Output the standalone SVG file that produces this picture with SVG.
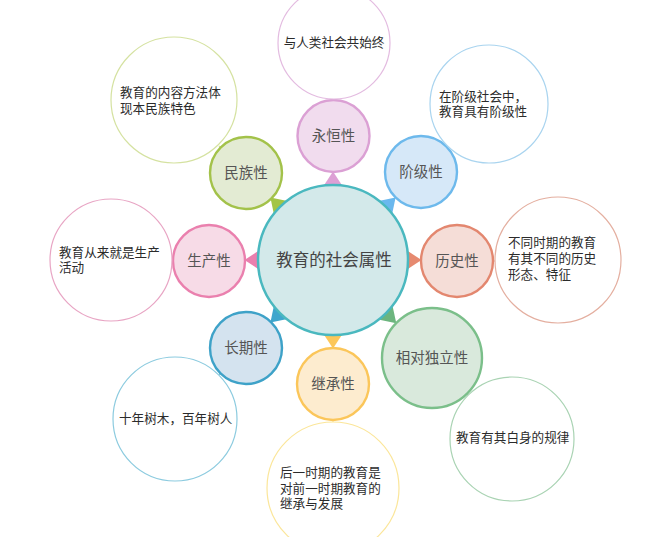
<svg xmlns="http://www.w3.org/2000/svg" width="659" height="537" viewBox="0 0 659 537">
<style>
text{font-family:"Liberation Sans","Noto Sans CJK SC",sans-serif;dominant-baseline:central}
.t{font-size:12.6px;fill:#2b2b2b}
.p{font-size:14.5px;fill:#555;text-anchor:middle}
.c{font-size:16.5px;fill:#444;text-anchor:middle}
.o{fill:#fff;stroke-width:1.2}
.n{stroke-width:2.4}
.lk{stroke-width:1.2}
</style>
<defs>
<polygon id="tri" points="74,-9.5 88.5,0 74,9.5"/>
<polygon id="tri2" points="74,-10 89.5,0 74,10"/>
</defs>
<rect width="659" height="537" fill="#fff"/>
<g id="connectors">
<g transform="translate(333,260)">
<use href="#tri" transform="rotate(-90)" fill="#dda0d5"/>
<use href="#tri" transform="rotate(-45)" fill="#6ab8ee"/>
<use href="#tri" transform="rotate(0)" fill="#e68a70"/>
<use href="#tri2" transform="rotate(45)" fill="#6cb57e"/>
<use href="#tri" transform="rotate(90)" fill="#fcc75a"/>
<use href="#tri" transform="rotate(135)" fill="#3fa6cd"/>
<use href="#tri" transform="rotate(180)" fill="#ea7fae"/>
<use href="#tri" transform="rotate(225)" fill="#a3c545"/>
</g>
<line class="lk" x1="333.5" y1="100" x2="334" y2="98" stroke="#e3bbe0"/>
<line class="lk" x1="446" y1="147" x2="448" y2="145" stroke="#a9d4ef"/>
<line class="lk" x1="493" y1="261" x2="495" y2="261" stroke="#e4afa0"/>
<line class="lk" x1="467" y1="394" x2="469" y2="396" stroke="#a9d3b3"/>
<line class="lk" x1="333" y1="420" x2="333" y2="422" stroke="#fbe69a"/>
<line class="lk" x1="221" y1="373" x2="219" y2="375" stroke="#8ccbdf"/>
<line class="lk" x1="173" y1="261" x2="172" y2="261" stroke="#e8a5c4"/>
<line class="lk" x1="221" y1="148" x2="219" y2="146" stroke="#d5e2a1"/>
</g>
<g id="center">
<circle cx="333" cy="260" r="75" fill="#d3e9ea" stroke="#4ab8bf" stroke-width="2.5"/>
<text class="c" x="334" y="260">教育的社会属性</text>
</g>
<g id="yonghengxing">
<circle class="n" cx="333.5" cy="136" r="36" fill="#f1dcee" stroke="#dba0d4"/>
<text class="p" x="333.5" y="136">永恒性</text>
</g>
<g id="jiejixing">
<circle class="n" cx="421" cy="172" r="36" fill="#d6e8f8" stroke="#6db9ec"/>
<text class="p" x="421" y="172">阶级性</text>
</g>
<g id="lishixing">
<circle class="n" cx="457" cy="261" r="36" fill="#f5ddd7" stroke="#e3876f"/>
<text class="p" x="457" y="261">历史性</text>
</g>
<g id="xiangdueiduliexing">
<circle class="n" cx="432" cy="358" r="50" fill="#d9e9dc" stroke="#7bbf8a"/>
<text class="p" x="432" y="358">相对独立性</text>
</g>
<g id="jichengxing">
<circle class="n" cx="333" cy="384" r="36" fill="#fdeccf" stroke="#fbc65a"/>
<text class="p" x="333" y="384">继承性</text>
</g>
<g id="changqixing">
<circle class="n" cx="246" cy="348" r="36" fill="#d4e3ef" stroke="#3ea2c8"/>
<text class="p" x="246" y="348">长期性</text>
</g>
<g id="shengchanxing">
<circle class="n" cx="209" cy="261" r="36" fill="#f7dbe7" stroke="#ea80ae"/>
<text class="p" x="209" y="261">生产性</text>
</g>
<g id="minzuxing">
<circle class="n" cx="246" cy="173" r="36" fill="#e3ebd3" stroke="#a3c24a"/>
<text class="p" x="246" y="173">民族性</text>
</g>
<g id="desc-yongheng">
<circle class="o" cx="334" cy="43" r="56" stroke="#e3bbe0"/>
<text class="t" x="334" y="43" text-anchor="middle">与人类社会共始终</text>
</g>
<g id="desc-jieji">
<circle class="o" cx="489" cy="104" r="59" stroke="#a9d4ef"/>
<text class="t" x="439" y="96.5">在阶级社会中，</text>
<text class="t" x="439" y="112">教育具有阶级性</text>
</g>
<g id="desc-lishi">
<circle class="o" cx="558" cy="260" r="63" stroke="#e4afa0"/>
<text class="t" x="508" y="243">不同时期的教育</text>
<text class="t" x="508" y="259">有其不同的历史</text>
<text class="t" x="508" y="275">形态、特征</text>
</g>
<g id="desc-duli">
<circle class="o" cx="512" cy="439" r="62" stroke="#a9d3b3"/>
<text class="t" x="456" y="438">教育有其白身的规律</text>
</g>
<g id="desc-jicheng">
<circle class="o" cx="333" cy="488" r="66" stroke="#fbe69a"/>
<text class="t" x="280" y="473">后一时期的教育是</text>
<text class="t" x="280" y="488.5">对前一时期教育的</text>
<text class="t" x="280" y="504">继承与发展</text>
</g>
<g id="desc-changqi">
<circle class="o" cx="175" cy="419" r="62" stroke="#8ccbdf"/>
<text class="t" x="119" y="419">十年树木，百年树人</text>
</g>
<g id="desc-shengchan">
<circle class="o" cx="111" cy="260" r="61" stroke="#e8a5c4"/>
<text class="t" x="59" y="252.5">教育从来就是生产</text>
<text class="t" x="59" y="268">活动</text>
</g>
<g id="desc-minzu">
<circle class="o" cx="174" cy="100" r="63" stroke="#d5e2a1"/>
<text class="t" x="120" y="93">教育的内容方法体</text>
<text class="t" x="120" y="109">现本民族特色</text>
</g>
</svg>
